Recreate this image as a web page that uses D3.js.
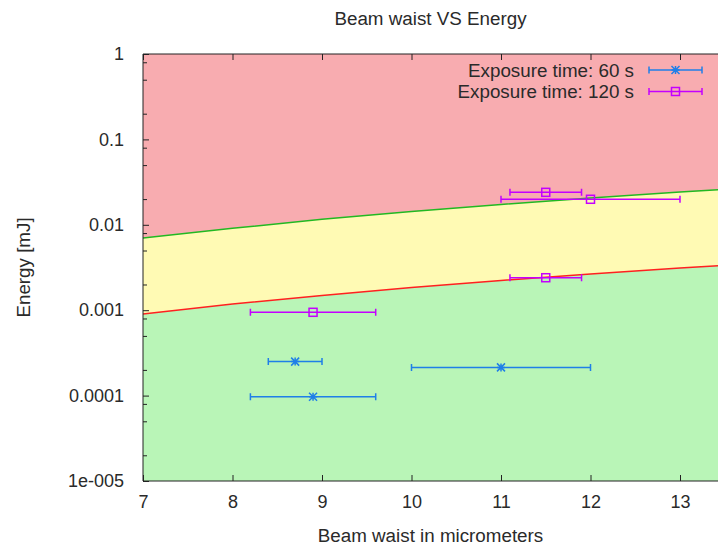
<!DOCTYPE html>
<html>
<head>
<meta charset="utf-8">
<script src="https://cdn.jsdelivr.net/npm/d3@7"></script>
<style>
  html, body { margin: 0; padding: 0; background: #fff; }
  svg { display: block; font-family: "Liberation Sans", Arial, sans-serif; }
</style>
</head>
<body>
<svg id="chart" width="718" height="546"></svg>
<script>
// Damage-threshold boundaries (energy in mJ at each beam waist in µm)
const boundaryWaist = [7, 8, 9, 10, 11, 12, 13, 13.5];
const upperBoundary = [0.0070, 0.0091, 0.0116, 0.0143, 0.0173, 0.0206, 0.0242, 0.0261];
const lowerBoundary = [0.00090, 0.00118, 0.00149, 0.00184, 0.00223, 0.00265, 0.00311, 0.00335];

// Exposure time 60 s: waist, waist range (min/max), energy
const waist60 = [8.7, 8.9, 11.0];
const waist60Min = [8.4, 8.2, 10.0];
const waist60Max = [9.0, 9.6, 12.0];
const energy60 = [0.00025, 0.000097, 0.000214];

// Exposure time 120 s
const waist120 = [8.9, 11.5, 11.5, 12.0];
const waist120Min = [8.2, 11.1, 11.1, 11.0];
const waist120Max = [9.6, 11.9, 11.9, 13.0];
const energy120 = [0.000945, 0.0024, 0.024, 0.0199];

const xTicks = [7, 8, 9, 10, 11, 12, 13];
const yTicks = [1e-5, 1e-4, 1e-3, 1e-2, 1e-1, 1];
const yTickLabels = ["1e-005", "0.0001", "0.001", "0.01", "0.1", "1"];
const yMinorMultipliers = [2, 5, 8];

const seriesNames = ["Exposure time: 60 s", "Exposure time: 120 s"];

const plotLeft = 143, plotTop = 54, plotBottom = 481, visibleRight = 718;

const svg = d3.select("#chart");

const x = d3.scaleLinear().domain([7, 13.5]).range([plotLeft, plotLeft + 6.5 * 89.5]);
const y = d3.scaleLog().domain([1e-5, 1]).range([plotBottom, plotTop]);

const plot = svg.append("g");
svg.append("clipPath").attr("id", "clip")
  .append("rect").attr("x", plotLeft).attr("y", plotTop)
  .attr("width", visibleRight - plotLeft).attr("height", plotBottom - plotTop);
const clipped = plot.append("g").attr("clip-path", "url(#clip)");

const pts = (vals) => boundaryWaist.map((w, i) => [w, vals[i]]);

// Background zones
const zoneHigh = d3.area().x(d => x(d[0])).y0(plotTop).y1(d => y(d[1]));
const zoneMid = d3.area().x((d, i) => x(boundaryWaist[i]))
  .y0((d, i) => y(lowerBoundary[i])).y1((d, i) => y(upperBoundary[i]));
const zoneLow = d3.area().x(d => x(d[0])).y0(plotBottom).y1(d => y(d[1]));

clipped.append("path").datum(pts(upperBoundary)).attr("d", zoneHigh).attr("fill", "#f8acb0");
clipped.append("path").datum(upperBoundary).attr("d", zoneMid).attr("fill", "#fffab4");
clipped.append("path").datum(pts(lowerBoundary)).attr("d", zoneLow).attr("fill", "#b9f5b7");

const line = d3.line().x(d => x(d[0])).y(d => y(d[1]));
clipped.append("path").datum(pts(upperBoundary)).attr("d", line)
  .attr("fill", "none").attr("stroke", "#22b822").attr("stroke-width", 1.5);
clipped.append("path").datum(pts(lowerBoundary)).attr("d", line)
  .attr("fill", "none").attr("stroke", "#ff2020").attr("stroke-width", 1.5);

// Axes frame
const axisColor = "#222";
plot.append("line").attr("x1", plotLeft).attr("x2", plotLeft).attr("y1", plotTop).attr("y2", plotBottom)
  .attr("stroke", axisColor).attr("stroke-width", 1);
plot.append("line").attr("x1", plotLeft).attr("x2", visibleRight).attr("y1", plotBottom).attr("y2", plotBottom)
  .attr("stroke", axisColor).attr("stroke-width", 1);
plot.append("line").attr("x1", plotLeft).attr("x2", visibleRight).attr("y1", plotTop).attr("y2", plotTop)
  .attr("stroke", axisColor).attr("stroke-width", 1);

const textColor = "#2a2a2a";
const tickFont = 18;
const labelFont = 18.8;

// X ticks (bottom and top, pointing inward)
const xAxisBottom = d3.axisBottom(x).tickValues(xTicks).tickSize(-6).tickPadding(14)
  .tickFormat(d3.format("d"));
const gxb = plot.append("g").attr("transform", `translate(0,${plotBottom})`).call(xAxisBottom);
gxb.select(".domain").remove();
gxb.selectAll("line").attr("stroke", axisColor);
gxb.selectAll("text").attr("font-size", tickFont).attr("fill", textColor)
  .attr("font-family", "Liberation Sans, Arial, sans-serif");

const xAxisTop = d3.axisTop(x).tickValues(xTicks).tickSize(-6).tickFormat("");
const gxt = plot.append("g").attr("transform", `translate(0,${plotTop})`).call(xAxisTop);
gxt.select(".domain").remove();
gxt.selectAll("line").attr("stroke", axisColor);

// Y ticks, major with labels, minor without
const yAxis = d3.axisLeft(y).tickValues(yTicks).tickSize(-6).tickPadding(19)
  .tickFormat((d, i) => yTickLabels[i]);
const gy = plot.append("g").attr("transform", `translate(${plotLeft},0)`).call(yAxis);
gy.select(".domain").remove();
gy.selectAll("line").attr("stroke", axisColor);
gy.selectAll("text").attr("font-size", tickFont).attr("fill", textColor)
  .attr("font-family", "Liberation Sans, Arial, sans-serif");

const minorVals = [];
yTicks.slice(0, -1).forEach(t => yMinorMultipliers.forEach(m => minorVals.push(t * m)));
const yMinor = d3.axisLeft(y).tickValues(minorVals).tickSize(-4).tickFormat("");
const gym = plot.append("g").attr("transform", `translate(${plotLeft},0)`).call(yMinor);
gym.select(".domain").remove();
gym.selectAll("line").attr("stroke", axisColor);

// Marker helpers
function drawStar(g, cx, cy, color) {
  const r = 4;
  const p = `M${cx - r},${cy}H${cx + r}M${cx},${cy - r}V${cy + r}` +
            `M${cx - r},${cy - r}L${cx + r},${cy + r}M${cx - r},${cy + r}L${cx + r},${cy - r}`;
  g.append("path").attr("d", p).attr("stroke", color).attr("stroke-width", 1.5).attr("fill", "none");
}
function drawSquare(g, cx, cy, color) {
  const r = 4;
  g.append("rect").attr("x", cx - r).attr("y", cy - r).attr("width", 2 * r).attr("height", 2 * r)
    .attr("stroke", color).attr("stroke-width", 1.5).attr("fill", "none");
}
function drawErrorBar(g, x0, x1, cy, color) {
  const c = 3.5;
  g.append("path")
    .attr("d", `M${x0},${cy}H${x1}M${x0},${cy - c}V${cy + c}M${x1},${cy - c}V${cy + c}`)
    .attr("stroke", color).attr("stroke-width", 1.5).attr("fill", "none");
}

const blue = "#1f7fe8";
const magenta = "#c400ff";

const series = [
  { w: waist60, lo: waist60Min, hi: waist60Max, e: energy60, color: blue, marker: drawStar },
  { w: waist120, lo: waist120Min, hi: waist120Max, e: energy120, color: magenta, marker: drawSquare }
];

const marks = clipped.append("g");
series.forEach(s => {
  s.w.forEach((w, i) => {
    const cy = y(s.e[i]);
    drawErrorBar(marks, x(s.lo[i]), x(s.hi[i]), cy, s.color);
    s.marker(marks, x(w), cy, s.color);
  });
});

// Legend
const legend = plot.append("g");
const legendRows = [70, 91.5];
series.forEach((s, i) => {
  const ly = legendRows[i];
  legend.append("text").attr("x", 634).attr("y", ly).attr("dy", "0.35em")
    .attr("text-anchor", "end").attr("font-size", labelFont).attr("fill", textColor)
    .text(seriesNames[i]);
  drawErrorBar(legend, 649, 702, ly, s.color);
  s.marker(legend, 675.5, ly, s.color);
});

// Title and axis labels
svg.append("text").attr("x", (plotLeft + visibleRight) / 2).attr("y", 18).attr("dy", "0.35em")
  .attr("text-anchor", "middle").attr("font-size", labelFont).attr("fill", textColor)
  .text("Beam waist VS Energy");
svg.append("text").attr("x", (plotLeft + visibleRight) / 2).attr("y", 535).attr("dy", "0.35em")
  .attr("text-anchor", "middle").attr("font-size", labelFont).attr("fill", textColor)
  .text("Beam waist in micrometers");
svg.append("text").attr("transform", `translate(23,${(plotTop + plotBottom) / 2}) rotate(-90)`)
  .attr("dy", "0.35em").attr("text-anchor", "middle").attr("font-size", labelFont).attr("fill", textColor)
  .text("Energy [mJ]");
</script>
</body>
</html>
